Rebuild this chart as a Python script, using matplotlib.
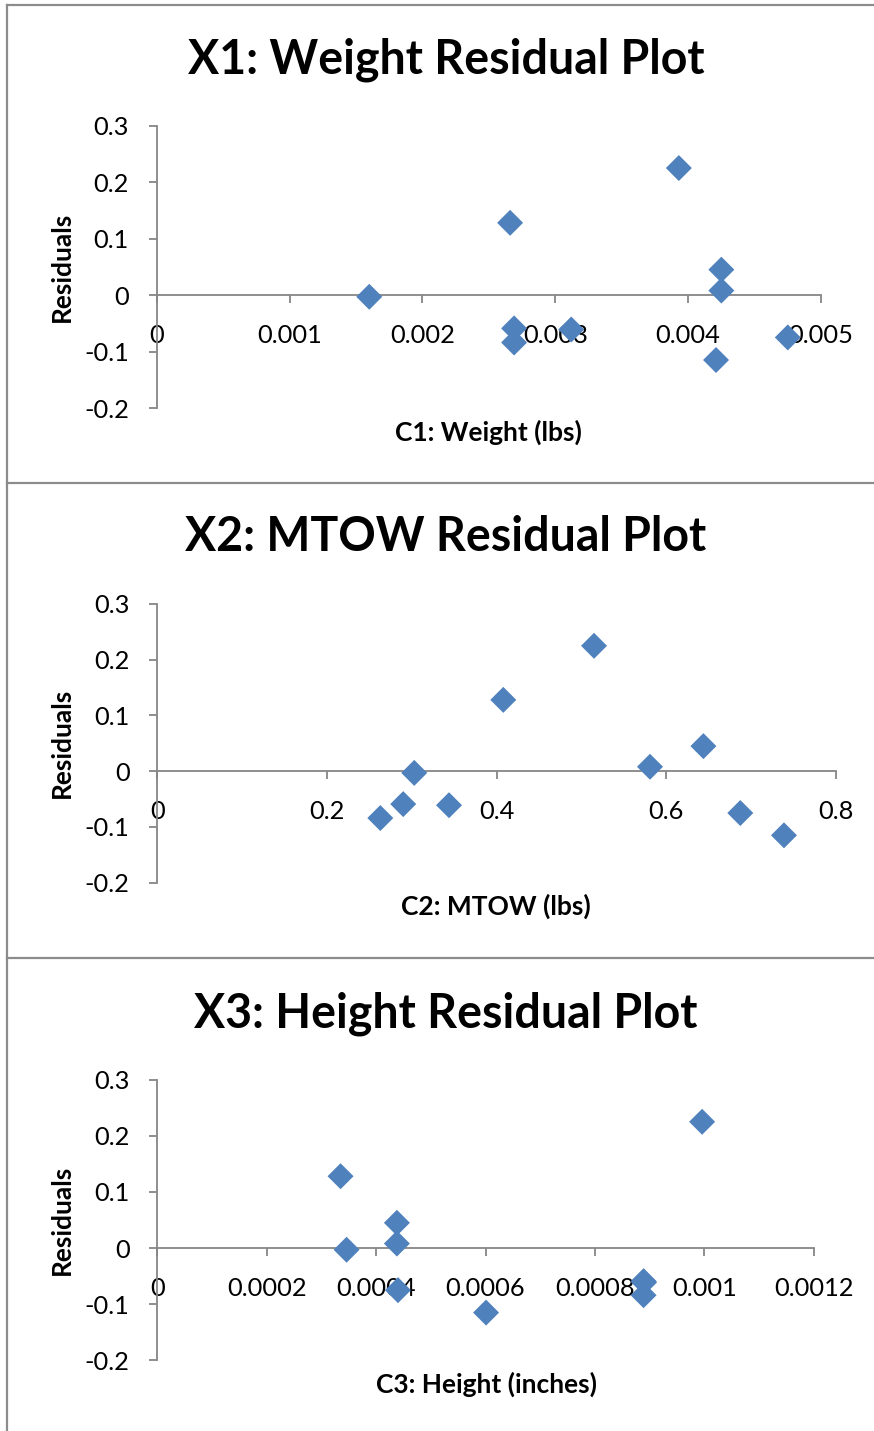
import matplotlib.pyplot as plt
from matplotlib.lines import Line2D

# residuals shared by the three predictor plots
residuals = [-0.003, 0.128, 0.225, 0.045, 0.008, -0.059, -0.084, -0.061, -0.115, -0.075]

weight = [0.00160, 0.00266, 0.00393, 0.00425, 0.00425, 0.00269, 0.00269, 0.00312, 0.00421, 0.00475]
mtow = [0.303, 0.408, 0.515, 0.644, 0.581, 0.290, 0.263, 0.344, 0.739, 0.6875]
height = [0.000346, 0.000335, 0.000996, 0.000438, 0.000438, 0.000889, 0.000889, 0.000890, 0.000601, 0.000440]

titles = ["X1: Weight Residual Plot", "X2: MTOW Residual Plot", "X3: Height Residual Plot"]
xlabels = ["C1: Weight (lbs)", "C2: MTOW (lbs)", "C3: Height (inches)"]
xticks = [[0, 0.001, 0.002, 0.003, 0.004, 0.005],
          [0, 0.2, 0.4, 0.6, 0.8],
          [0, 0.0002, 0.0004, 0.0006, 0.0008, 0.001, 0.0012]]
xtick_labels = [["0", "0.001", "0.002", "0.003", "0.004", "0.005"],
                ["0", "0.2", "0.4", "0.6", "0.8"],
                ["0", "0.0002", "0.0004", "0.0006", "0.0008", "0.001", "0.0012"]]
yticks = [-0.2, -0.1, 0, 0.1, 0.2, 0.3]
ytick_labels = ["-0.2", "-0.1", "0", "0.1", "0.2", "0.3"]

W, H = 874, 1431
FONT = "Lato"
GRID = "#868686"
BLUE = "#4F81BD"


def fx(px):
    return px / W


def fy(py):
    return 1 - py / H


fig = plt.figure(figsize=(W / 100, H / 100), dpi=100)

# axes boxes in pixels: left, right, top (y=0.3), bottom (y=-0.2)
boxes = [(156.7, 821.0, 125.7, 408.0),
         (157.3, 835.7, 604.0, 882.7),
         (157.3, 813.7, 1079.7, 1360.3)]
title_y = [60, 537, 1014]
xlabel_pos = [(488, 432), (496, 906), (486, 1384)]
ylabel_pos = [(62, 267), (62, 743), (62, 1220)]
xdata = [weight, mtow, height]

for i in range(3):
    l, r, t, b = boxes[i]
    ax = fig.add_axes([fx(l), fy(b), fx(r) - fx(l), (b - t) / H])
    ax.scatter(xdata[i], residuals, marker="D", s=175, color=BLUE,
               edgecolors="none", zorder=3, clip_on=False)
    ax.set_xlim(xticks[i][0], xticks[i][-1])
    ax.set_ylim(-0.2, 0.3)
    ax.set_xticks(xticks[i])
    ax.set_xticklabels(xtick_labels[i])
    ax.set_yticks(yticks)
    ax.set_yticklabels(ytick_labels)
    for s in ["top", "right"]:
        ax.spines[s].set_visible(False)
    ax.spines["bottom"].set_position(("data", 0))
    for s in ["left", "bottom"]:
        ax.spines[s].set_color(GRID)
        ax.spines[s].set_linewidth(1.3)
    ax.tick_params(axis="both", colors=GRID, width=1.3, length=6,
                   labelcolor="black", labelsize=18.3)
    ax.tick_params(axis="x", direction="out", pad=15)
    ax.tick_params(axis="y", direction="out", pad=14)
    for lab in ax.get_xticklabels() + ax.get_yticklabels():
        lab.set_family(FONT)
    ax.patch.set_visible(False)

    fig.text(fx(446), fy(title_y[i]), titles[i], ha="center", va="center",
             fontsize=33.5, fontweight="bold", family=FONT)
    fig.text(fx(xlabel_pos[i][0]), fy(xlabel_pos[i][1]), xlabels[i],
             ha="center", va="center", fontsize=19, fontweight="bold", family=FONT)
    fig.text(fx(ylabel_pos[i][0]), fy(ylabel_pos[i][1]), "Residuals",
             ha="center", va="center", rotation=90, fontsize=19,
             fontweight="bold", family=FONT)

# chart frame lines
for py in [5, 483, 958]:
    fig.add_artist(Line2D([fx(7), 1], [fy(py), fy(py)], color="#8c8c8c", lw=1.6))
fig.add_artist(Line2D([fx(7), fx(7)], [fy(5), 0], color="#8c8c8c", lw=1.6))

fig.savefig("out.png", dpi=100)
